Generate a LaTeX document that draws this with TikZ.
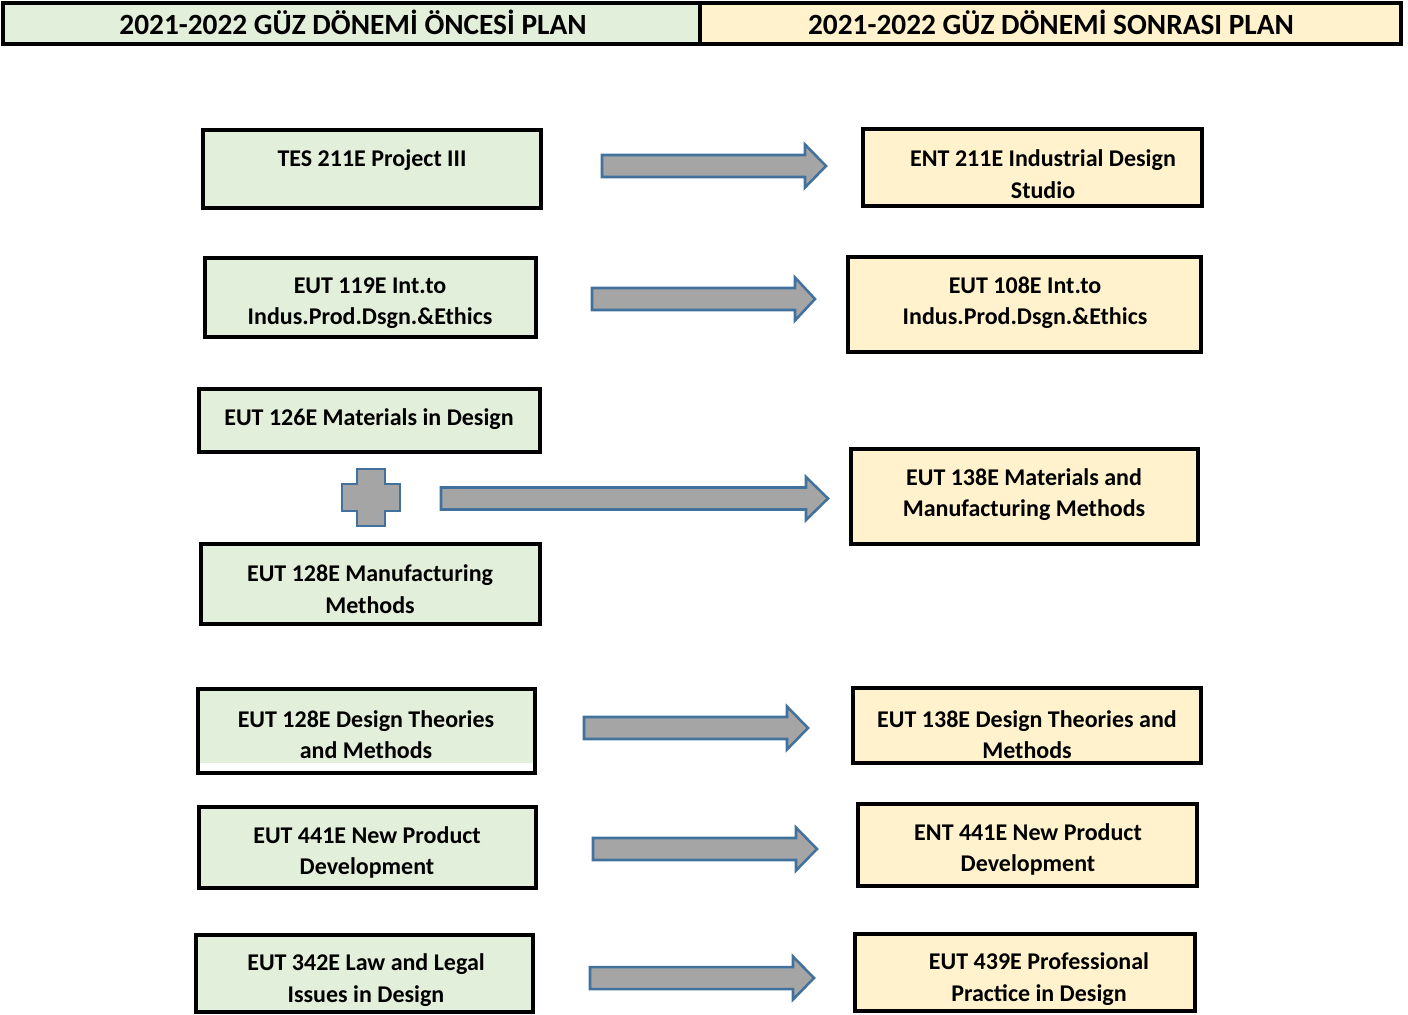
\documentclass[tikz,border=0pt]{standalone}
\usepackage{fontspec}
\setmainfont{Carlito}
\usetikzlibrary{fit}
\definecolor{gfill}{HTML}{E2EFDA}
\definecolor{yfill}{HTML}{FFF2CC}
\definecolor{afill}{HTML}{A5A5A5}
\definecolor{aline}{HTML}{41719C}
\tikzset{
  gbox/.style={draw=black, fill=gfill, line width=2.4pt, inner sep=0pt},
  ybox/.style={draw=black, fill=yfill, line width=2.4pt, inner sep=0pt},
  hbox/.style={draw=black, line width=3.4pt, inner sep=0pt},
  txt/.style={font=\fontsize{18}{23.5}\selectfont\bfseries, align=center, inner sep=0pt, yshift=-1.5pt},
  htxt/.style={font=\fontsize{22}{26}\selectfont\bfseries, inner sep=0pt, yshift=1.5pt},
  blockarrow/.style={draw=aline, fill=afill, line width=1.9pt, line join=miter}
}
\newcommand\barrow[5]{% x0, xh, xe, mid y, name
  \draw[blockarrow] (#1,#4-11) -- (#2,#4-11) -- (#2,#4-21.5) -- (#3,#4) -- (#2,#4+21.5) -- (#2,#4+11) -- (#1,#4+11) -- cycle;
  \coordinate (#5) at (#3,#4);}
\begin{document}
\begin{tikzpicture}[x=0.75pt,y=-0.75pt]
\useasboundingbox (0,0) rectangle (1408,1014);
% header
\node[hbox, fill=gfill, fit={(3,3) (700,44)}] (hl) {};
\node[hbox, fill=yfill, fit={(700,3) (1401,44)}] (hr) {};
\node[htxt] (hlt) at (353,24) {2021-2022 GÜZ DÖNEMİ ÖNCESİ PLAN};
\node[htxt] (hrt) at (1051,24) {2021-2022 GÜZ DÖNEMİ SONRASI PLAN};
% left boxes
\node[gbox, fit={(203,130) (541,208)}] (l1) {};
\node[txt] (l1t) at (372,158) {TES 211E Project III};
\node[gbox, fit={(205,258) (536,337)}] (l2) {};
\node[txt] (l2t) at (370,301) {EUT 119E Int.to\\Indus.Prod.Dsgn.\&Ethics};
\node[gbox, fit={(199,389) (540,452)}] (l3) {};
\node[txt] (l3t) at (369,417) {EUT 126E Materials in Design};
\node[gbox, fit={(201,544) (540,624)}] (l4) {};
\node[txt] (l4t) at (370,587) {EUT 128E Manufacturing\\Methods};
\node[gbox, fit={(198,689) (535,773)}] (l5) {};
\fill[white] (199.8,763) rectangle (533.2,771.2);
\node[txt] (l5t) at (366,732.5) {EUT 128E Design Theories\\and Methods};
\node[gbox, fit={(199,807) (536,888)}] (l6) {};
\node[txt] (l6t) at (367,850.5) {EUT 441E New Product\\Development};
\node[gbox, fit={(196,935) (533,1012)}] (l7) {};
\node[txt] (l7t) at (366,978) {EUT 342E Law and Legal\\Issues in Design};
% right boxes
\node[ybox, fit={(863,129) (1202,206)}] (r1) {};
\node[txt] (r1t) at (1043,172) {ENT 211E Industrial Design\\Studio};
\node[ybox, fit={(848,257) (1201,352)}] (r2) {};
\node[txt] (r2t) at (1025,301) {EUT 108E Int.to\\Indus.Prod.Dsgn.\&Ethics};
\node[ybox, fit={(851,449) (1198,544)}] (r3) {};
\node[txt] (r3t) at (1024,492.5) {EUT 138E Materials and\\Manufacturing Methods};
\node[ybox, fit={(853,688) (1201,763)}] (r4) {};
\node[txt] (r4t) at (1027,732.5) {EUT 138E Design Theories and\\Methods};
\node[ybox, fit={(858,804) (1197,886)}] (r5) {};
\node[txt] (r5t) at (1028,847.5) {ENT 441E New Product\\Development};
\node[ybox, fit={(855,934) (1195,1011)}] (r6) {};
\node[txt] (r6t) at (1039,977) {EUT 439E Professional\\Practice in Design};
% arrows
\barrow{602}{805}{826}{166}{a1}
\barrow{592}{795}{815}{299}{a2}
\barrow{441}{806}{828}{498.5}{a3}
\barrow{584}{787}{808}{728}{a4}
\barrow{593}{796}{817}{849}{a5}
\barrow{590}{793}{814}{978}{a6}
% plus
\draw[blockarrow] (357,469) -- (385,469) -- (385,484) -- (400,484) -- (400,511) -- (385,511) -- (385,526) -- (357,526) -- (357,511) -- (342,511) -- (342,484) -- (357,484) -- cycle;
\end{tikzpicture}
\end{document}
